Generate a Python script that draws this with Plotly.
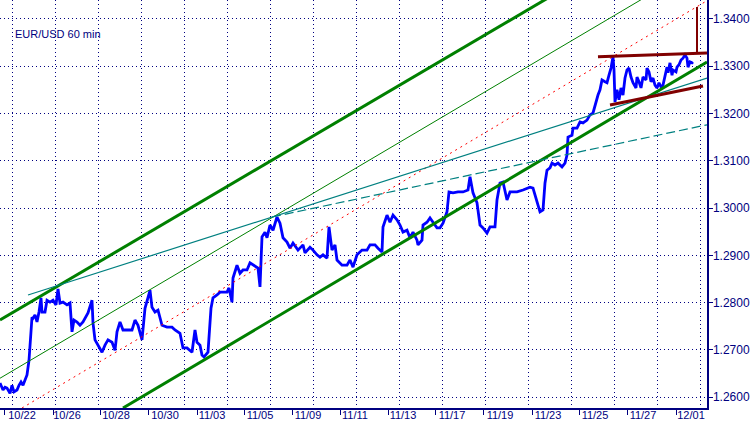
import plotly.graph_objects as go

# ---------------- data ----------------
title_text = "EUR/USD 60 min"

# hourly bar index (x) and EUR/USD close (price)
bar_index = [0, 3, 5, 7, 10, 12, 14, 17, 19, 21, 23, 25, 27, 29, 30, 31, 32,
             33, 35, 37, 39, 41, 42, 45, 47, 50, 53, 56, 58, 60, 63, 67, 70, 72, 74, 77, 80, 83, 88,
             92, 93, 95, 98, 102, 105, 108, 112, 115, 117, 120, 123, 127, 132, 135, 138, 142, 145,
             150, 152, 155, 158, 162, 167, 172, 175, 180, 183, 187, 192, 195, 197, 200, 202, 204,
             208, 211, 213, 217, 220, 227, 229, 232, 233, 237, 240, 243, 247, 250,
             258, 260, 262, 265, 267, 270, 273, 277, 280, 283, 287, 290, 293, 298, 303, 305, 310,
             313, 317, 320, 323, 327, 329, 332, 335, 337, 342, 347, 350, 353, 357, 362, 367, 370,
             375, 378, 382, 383, 387, 390, 393, 397, 400, 403, 407, 410, 413, 417, 418, 422, 423,
             427, 430, 433, 437, 440, 443, 447, 449, 453, 458, 463, 468, 470, 473, 477, 480, 483,
             487, 490, 495, 497, 500, 503, 507, 510, 517, 523, 530, 533, 537, 540, 543, 545, 547,
             550, 552, 555, 558, 562, 565, 567, 568, 572, 573, 577, 580, 583, 587, 590, 593, 595,
             598, 600, 602, 605, 607, 609, 611, 613, 614, 615, 617, 619, 621, 623, 624, 625, 627,
             629, 631, 633, 636, 637, 639, 641, 643, 646, 647, 649, 651, 653, 655, 657, 659, 661,
             663, 665, 667, 668, 670, 672, 673, 676, 677, 679, 681, 683, 685, 687, 688, 690, 692, 693]
price = [1.2630, 1.2615, 1.2621, 1.2619, 1.2608, 1.2625, 1.2611, 1.2615, 1.2625, 1.2632, 1.2625, 1.2636, 1.2647, 1.2678, 1.2710, 1.2742, 1.2769,
         1.2767, 1.2774, 1.2759, 1.2780, 1.2810, 1.2780, 1.2780, 1.2805, 1.2801, 1.2805, 1.2795, 1.2829, 1.2799, 1.2801, 1.2795, 1.2799, 1.2738, 1.2763, 1.2759, 1.2752, 1.2759, 1.2778,
         1.2805, 1.2757, 1.2721, 1.2710, 1.2695, 1.2710, 1.2721, 1.2716, 1.2699, 1.2738, 1.2759, 1.2742, 1.2742, 1.2742, 1.2763, 1.2752, 1.2721, 1.2788,
         1.2826, 1.2790, 1.2780, 1.2784, 1.2752, 1.2748, 1.2748, 1.2742, 1.2735, 1.2704, 1.2704, 1.2695, 1.2742, 1.2716, 1.2710, 1.2689, 1.2685,
         1.2695, 1.2788, 1.2810, 1.2816, 1.2822, 1.2822, 1.2831, 1.2801, 1.2852, 1.2879, 1.2862, 1.2869, 1.2869, 1.2884,
         1.2873, 1.2833, 1.2939, 1.2949, 1.2937, 1.2964, 1.2953, 1.2981, 1.2968, 1.2937, 1.2928, 1.2915, 1.2926, 1.2911, 1.2922, 1.2905, 1.2917,
         1.2911, 1.2901, 1.2896, 1.2901, 1.2894, 1.2960, 1.2911, 1.2922, 1.2890, 1.2879, 1.2879, 1.2890, 1.2875, 1.2901, 1.2911, 1.2911, 1.2922,
         1.2922, 1.2915, 1.2907, 1.2960, 1.2985, 1.2970, 1.2985, 1.2975, 1.2964, 1.2949, 1.2953, 1.2937, 1.2949, 1.2932, 1.2922, 1.2932, 1.2964,
         1.2970, 1.2979, 1.2970, 1.2958, 1.2958, 1.2968, 1.2992, 1.3034, 1.3032, 1.3034, 1.3034, 1.3038, 1.3066, 1.3032, 1.3011, 1.2964, 1.2958,
         1.2947, 1.2960, 1.2960, 1.3017, 1.3053, 1.3055, 1.3017, 1.3034, 1.3034, 1.3038, 1.3044, 1.3042, 1.3011, 1.2992, 1.2996, 1.3053, 1.3080,
         1.3085, 1.3095, 1.3091, 1.3095, 1.3087, 1.3095, 1.3112, 1.3150, 1.3154, 1.3169, 1.3169, 1.3182, 1.3180, 1.3186, 1.3197, 1.3201, 1.3218,
         1.3239, 1.3250, 1.3271, 1.3267, 1.3265, 1.3281, 1.3296, 1.3320, 1.3292, 1.3224, 1.3250, 1.3229, 1.3254, 1.3239, 1.3254, 1.3275, 1.3292,
         1.3296, 1.3277, 1.3265, 1.3254, 1.3277, 1.3267, 1.3254, 1.3277, 1.3271, 1.3296, 1.3288, 1.3267, 1.3275, 1.3260, 1.3254, 1.3265, 1.3256,
         1.3260, 1.3277, 1.3298, 1.3286, 1.3307, 1.3281, 1.3292, 1.3288, 1.3298, 1.3303, 1.3313, 1.3317, 1.3324, 1.3317, 1.3298, 1.3309, 1.3307, 1.3309]

# trend lines (two anchor points each: bar index, price)
channel_upper_x = [0, 707]
channel_upper_y = [1.2763, 1.3642]
channel_lower_x = [123, 707]
channel_lower_y = [1.2577, 1.3309]
channel_mid_x = [0, 707]
channel_mid_y = [1.2640, 1.3523]
red_trend_x = [22, 705]
red_trend_y = [1.2577, 1.3436]
teal_solid_x = [28, 707]
teal_solid_y = [1.2816, 1.3275]
teal_dashed_x = [272, 707]
teal_dashed_y = [1.2981, 1.3176]
tri_upper_x = [598, 707]
tri_upper_y = [1.3320, 1.3328]
tri_lower_x = [610, 703]
tri_lower_y = [1.3218, 1.3258]
tri_target_x = [697, 697]
tri_target_y = [1.3327, 1.3425]

# axes
x_range = [0, 707]
y_range = [1.2577, 1.3440]
y_ticks = [1.26, 1.27, 1.28, 1.29, 1.30, 1.31, 1.32, 1.33, 1.34]
y_tick_text = ["1.2600", "1.2700", "1.2800", "1.2900", "1.3000", "1.3100", "1.3200", "1.3300", "1.3400"]
date_labels = ["10/22", "10/26", "10/28", "10/30", "11/03", "11/05", "11/09", "11/11",
               "11/13", "11/17", "11/19", "11/23", "11/25", "11/27", "12/01"]
date_label_pos = [22, 67, 116, 165, 212, 260, 308, 355, 403, 452, 500, 548, 595, 643, 691]
date_tick_pos = [4, 53, 100, 148, 197, 244, 292, 340, 388, 435, 483, 532, 579, 627, 676]
grid_x = [12, 55, 98, 141, 184, 227, 270, 313, 356, 399, 442, 485, 528, 571, 614, 657, 700]

NAVY = "#000080"
fig = go.Figure()

fig.add_trace(go.Scatter(x=bar_index, y=price, mode="lines",
                         line=dict(color="#0000FF", width=2.8), hoverinfo="skip"))

def add_line(xs, ys, color, width, dash="solid"):
    fig.add_trace(go.Scatter(x=xs, y=ys, mode="lines",
                             line=dict(color=color, width=width, dash=dash), hoverinfo="skip"))

add_line(channel_upper_x, channel_upper_y, "#008000", 3)
add_line(channel_lower_x, channel_lower_y, "#008000", 3)
add_line(channel_mid_x, channel_mid_y, "#008000", 1)
add_line(red_trend_x, red_trend_y, "#FF0000", 1, "2px,4px")
add_line(teal_solid_x, teal_solid_y, "#008080", 1.2)
add_line(teal_dashed_x, teal_dashed_y, "#008080", 1.2, "9px,4px")
add_line(tri_upper_x, tri_upper_y, "#800000", 3)
add_line(tri_lower_x, tri_lower_y, "#800000", 3)
add_line(tri_target_x, tri_target_y, "#800000", 2)

fig.update_layout(
    width=756, height=426,
    margin=dict(l=0, r=49, t=0, b=18, autoexpand=False),
    paper_bgcolor="white", plot_bgcolor="white",
    showlegend=False,
    hovermode=False,
    font=dict(family="Liberation Sans, Arial, sans-serif", color=NAVY),
    xaxis=dict(range=x_range, tickmode="array", tickvals=grid_x, showticklabels=False,
               ticks="", showgrid=True, gridcolor=NAVY, gridwidth=1, griddash="1px,3px",
               zeroline=False, showline=True, linecolor=NAVY, linewidth=1.5, automargin=False,
               minor=dict(tickmode="array", tickvals=date_tick_pos, ticks="outside",
                          ticklen=5, tickcolor=NAVY, tickwidth=1, showgrid=False)),
    xaxis2=dict(range=x_range, overlaying="x", anchor="y", side="bottom",
                tickmode="array", tickvals=date_label_pos, ticktext=date_labels,
                ticks="", showgrid=False, zeroline=False, showline=False, automargin=False,
                tickfont=dict(size=11, color=NAVY), ticklabelstandoff=-1),
    yaxis=dict(range=y_range, side="right", tickmode="array", tickvals=y_ticks,
               ticktext=y_tick_text, ticks="outside", ticklen=4, tickcolor=NAVY,
               showgrid=True, gridcolor=NAVY, gridwidth=1, griddash="1px,3px",
               zeroline=False, showline=True, linecolor=NAVY, linewidth=1.5, automargin=False,
               tickfont=dict(size=12, color=NAVY), ticklabelstandoff=-2),
    annotations=[dict(text=title_text, xref="paper", yref="paper",
                      x=13 / 707, y=1 - 34 / 408, xanchor="left", yanchor="middle",
                      showarrow=False, font=dict(size=11, color=NAVY))],
)

# invisible trace to activate the label axis
fig.add_trace(go.Scatter(x=[x_range[0]], y=[y_range[0]], xaxis="x2", yaxis="y",
                         mode="markers", marker=dict(opacity=0), hoverinfo="skip"))

fig.write_html("out.html",
               config={"displayModeBar": False, "staticPlot": True},
               post_script="document.body.style.margin='0px';document.body.style.padding='0px';")
